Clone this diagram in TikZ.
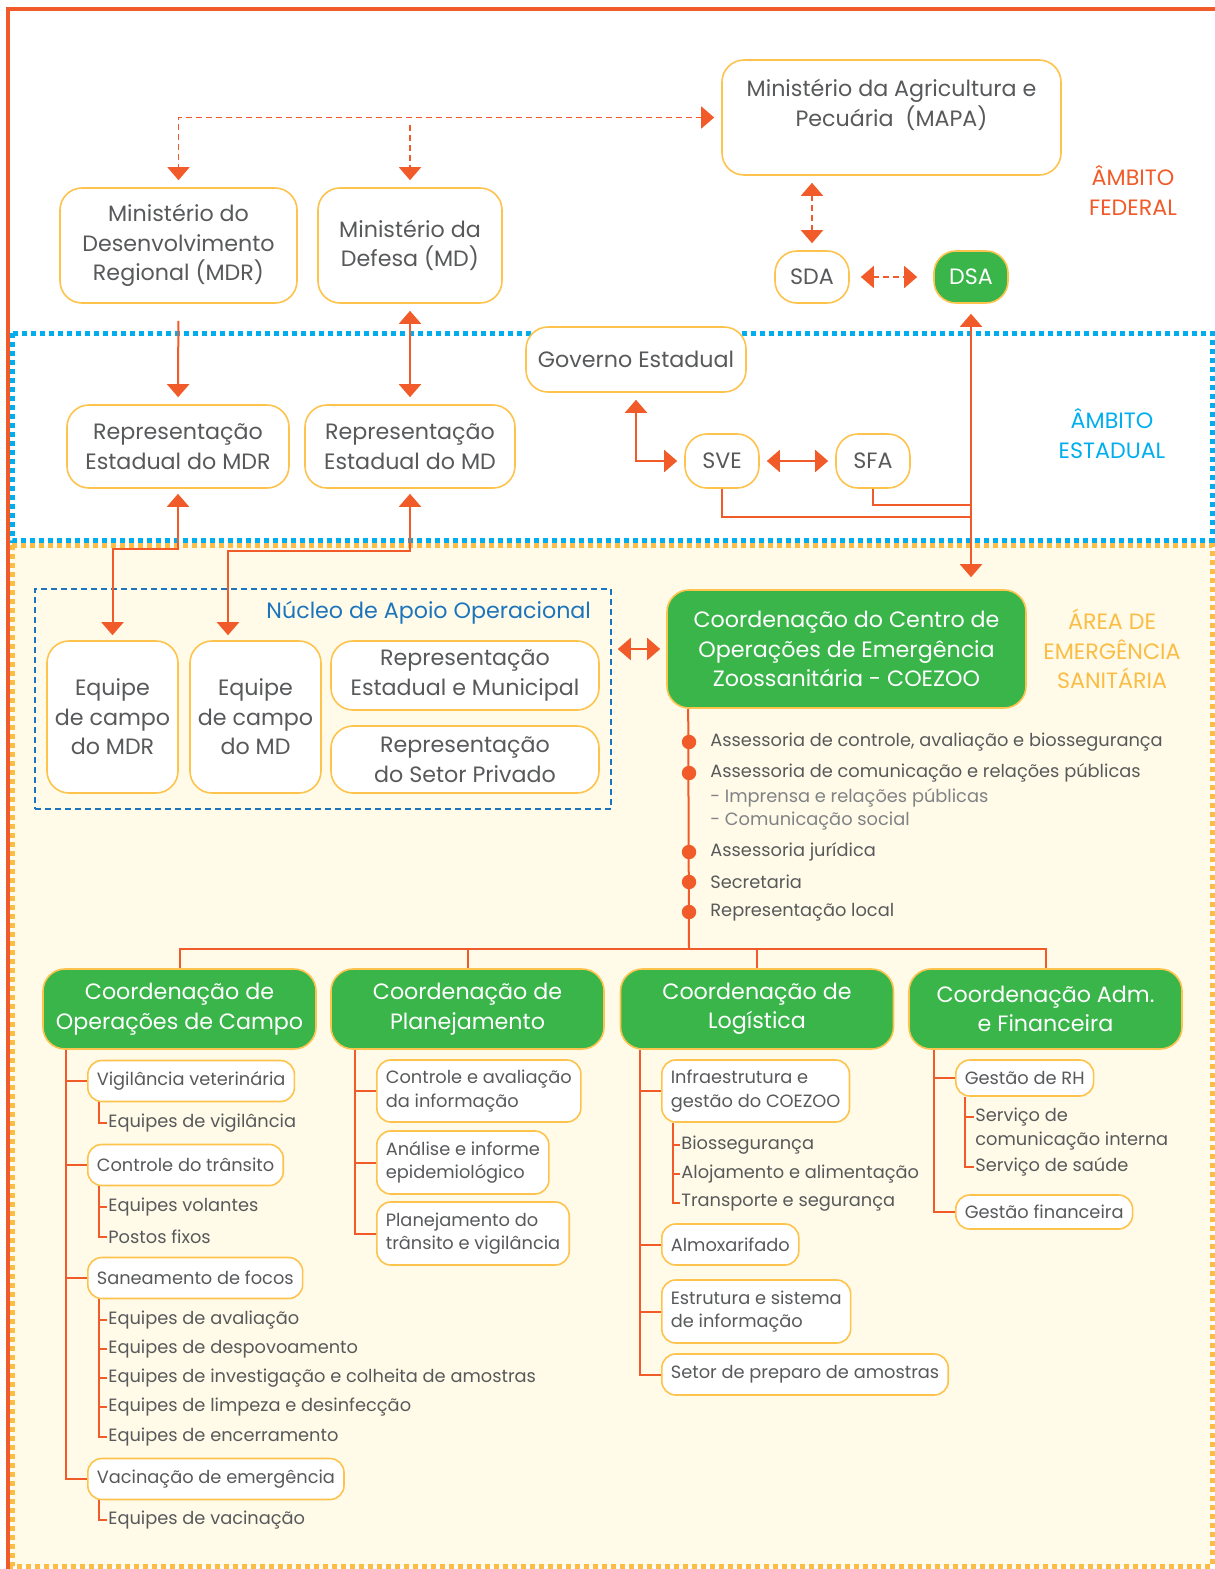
\documentclass[tikz,border=0pt]{standalone}
\usepackage{fontspec}
\setmainfont{Poppins}
\usetikzlibrary{arrows.meta, positioning, calc}

\definecolor{orng}{RGB}{241,90,41}
\definecolor{boxyel}{RGB}{253,195,77}
\definecolor{coegreen}{RGB}{57,181,74}
\definecolor{dotblue}{RGB}{0,174,239}
\definecolor{nucblue}{RGB}{28,117,188}
\definecolor{bgyel}{RGB}{255,251,232}
\definecolor{txtgray}{RGB}{88,89,91}
\definecolor{lightgray}{RGB}{128,130,133}
\definecolor{areayel}{RGB}{251,189,70}

\newcommand{\fbig}{\fontsize{11.1}{14.75}\selectfont}
\newcommand{\fsmall}{\fontsize{8.9}{11.6}\selectfont}

\begin{document}
\begin{tikzpicture}[x=0.5pt, y=-0.5pt,
  >={Triangle[width=11pt,length=6.5pt]},
  minbox/.style={draw=boxyel, line width=0.8pt, fill=white, rounded corners=11pt,
    align=center, text=txtgray, font=\fbig, inner sep=2pt},
  coebox/.style={minbox, fill=coegreen, text=white},
  subbox/.style={draw=boxyel, line width=0.8pt, fill=white, rounded corners=7pt,
    align=left, text=txtgray, font=\fsmall, anchor=west, inner xsep=4.5pt, inner ysep=2pt},
  leaftext/.style={text=txtgray, font=\fsmall, anchor=west, align=left, inner xsep=0.5pt, inner ysep=1pt},
  scopelabel/.style={font=\fbig, align=center},
  link/.style={draw=orng, line width=1pt, shorten >=3.5pt, shorten <=3.5pt},
  dlink/.style={link, line width=0.8pt, dash pattern=on 3pt off 2pt},
  branch/.style={draw=orng, line width=1pt},
  twig/.style={draw=orng, line width=0.7pt}
]
  \useasboundingbox (0,0) rectangle (1215,1569);

  % Regions
  \fill[bgyel] (12,545) rectangle (1212,1566);
  \draw[areayel, line width=2.5pt, dash pattern=on 2.5pt off 2pt] (12,545) rectangle (1212,1566);
  \draw[dotblue, line width=2.5pt, dash pattern=on 2.5pt off 2pt] (12,333) rectangle (1212,540);
  \draw[orng, line width=1.6pt] (8,1575) -- (8,9) -- (1222,9);

  % Federal level
  \node[minbox, minimum width=169.5pt, minimum height=57.5pt] (mapa) at (891.5,117.5)
    {Ministério da Agricultura e\\Pecuária\ \ (MAPA)\\\mbox{}};
  \node[minbox, minimum width=118.5pt, minimum height=57.5pt] (mdr) at (178.5,245.5)
    {Ministério do\\Desenvolvimento\\Regional (MDR)};
  \node[minbox, minimum width=92pt, minimum height=57.5pt] (md) at (410,245.5)
    {Ministério da\\Defesa (MD)};
  \node[minbox, minimum width=37pt, minimum height=26pt] (sda) at (812,277) {SDA};
  \node[coebox, minimum width=37pt, minimum height=26pt] (dsa) at (971,277) {DSA};
  \node[scopelabel, text=orng] (fed) at (1133,190.5) {ÂMBITO\\FEDERAL};

  % State level
  \node[minbox, minimum width=110pt, minimum height=32.5pt] (gov) at (636,359.5) {Governo Estadual};
  \node[minbox, minimum width=111pt, minimum height=41.5pt] (repmdr) at (178,446.5)
    {Representação\\Estadual do MDR};
  \node[minbox, minimum width=105pt, minimum height=41.5pt] (repmd) at (410,446.5)
    {Representação\\Estadual do MD};
  \node[minbox, minimum width=37pt, minimum height=27pt] (sve) at (722,461) {SVE};
  \node[minbox, minimum width=37pt, minimum height=27pt] (sfa) at (873,461) {SFA};
  \node[scopelabel, text=dotblue] (est) at (1112,433.5) {ÂMBITO\\ESTADUAL};

  % Emergency area
  \node[draw=nucblue, line width=0.75pt, dash pattern=on 3pt off 2pt,
    minimum width=288pt, minimum height=110pt] (nuc) at (323,699) {};
  \node[text=nucblue, font=\fbig, anchor=east] (nuclabel) at (598,613) {Núcleo de Apoio Operacional};
  \node[minbox, minimum width=65.5pt, minimum height=76pt] (eqmdr) at (112.5,717)
    {Equipe\\de campo\\do MDR};
  \node[minbox, minimum width=65.5pt, minimum height=76pt] (eqmd) at (255.5,717)
    {Equipe\\de campo\\do MD};
  \node[minbox, minimum width=134pt, minimum height=34.5pt] (repem) at (465,675.5)
    {Representação\\Estadual e Municipal};
  \node[minbox, minimum width=134pt, minimum height=33.5pt] (repsp) at (465,759.5)
    {Representação\\do Setor Privado};
  \node[coebox, minimum width=179.5pt, minimum height=59pt] (coe) at (846.5,649)
    {Coordenação do Centro de\\Operações de Emergência\\Zoossanitária - COEZOO};
  \node[scopelabel, text=areayel] (emg) at (1112,649) {ÁREA DE\\EMERGÊNCIA\\SANITÁRIA};

  % Connections between levels
  \draw[dlink, <->] (mapa.west) -| (mdr.north);
  \draw[dlink, ->] (md.north |- mapa.west) -- (md.north);
  \draw[dlink, <->] (sda.north |- mapa.south) -- (sda.north);
  \draw[dlink, <->, shorten <=5.5pt, shorten >=8pt] (sda) -- (dsa);
  \draw[link, ->, shorten <=8.5pt] (mdr) -- (repmdr);
  \draw[link, <->] (md) -- (repmd);
  \draw[link, <->] (gov.south) |- (sve.west);
  \draw[link, <->] (sve) -- (sfa);
  \draw[link, <->, shorten <=5pt, shorten >=6pt] (dsa.south) -- (dsa.south |- coe.north);
  \coordinate (jsfa) at (971,505);
  \coordinate (jsve) at (971,517);
  \draw[branch] (sfa.south) |- (jsfa);
  \draw[branch] (sve.south) |- (jsve);
  \draw[link, <->, shorten <=2.5pt, shorten >=2.5pt] (repmdr.south) -- ++(0,60) -| (eqmdr.north);
  \draw[link, <->, shorten <=2.5pt, shorten >=2.5pt] (repmd.south) -- ++(0,62) -| ([xshift=-13.75pt]eqmd.north);
  \draw[link, <->, shorten <=3pt, shorten >=3pt] (nuc.east |- coe.west) -- (coe.west);

  % COEZOO staff
  \coordinate (bus) at (689,949);
  \draw[branch] ([xshift=11pt]coe.south west) -- (bus);
  \foreach \y/\t [count=\i] in {742/{Assessoria de controle, avaliação e biossegurança},
      773/{Assessoria de comunicação e relações públicas}, 852/{Assessoria jurídica},
      882/{Secretaria}, 912/{Representação local}} {
    \fill[orng] (689,\y) circle (3.6pt);
    \node[leaftext] (ass\i) at (709,\y) {\t};
  }
  \node[leaftext, text=lightgray, anchor=north west] (imp) at (709,786)
    {- Imprensa e relações públicas\\- Comunicação social};

  % Coordinations
  \node[coebox, minimum width=136.5pt, minimum height=40pt] (campo) at (179.5,1009)
    {Coordenação de\\Operações de Campo};
  \node[coebox, minimum width=136.5pt, minimum height=40pt] (plan) at (467.5,1009)
    {Coordenação de\\Planejamento};
  \node[coebox, minimum width=136.5pt, minimum height=40pt] (logi) at (757,1009)
    {Coordenação de\\Logística};
  \node[coebox, minimum width=136.5pt, minimum height=40pt] (adm) at (1045.5,1009)
    {Coordenação Adm.\\e Financeira};
  \foreach \c in {campo, plan, logi, adm} {
    \draw[branch] (bus) -| (\c.north);
  }

  % Field operations
  \node[subbox, minimum height=20.5pt] (vig) at (87,1081) {Vigilância veterinária};
  \node[subbox, minimum height=20.5pt] (trans) at (87,1165) {Controle do trânsito};
  \node[subbox, minimum height=20.5pt] (san) at (87,1278) {Saneamento de focos};
  \node[subbox, minimum height=20.5pt] (vac) at (87,1479) {Vacinação de emergência};
  \foreach \n in {vig, trans, san, vac} {
    \draw[branch] ([xshift=12pt]campo.south west) |- (\n.west);
  }
  \node[leaftext] (ev) at (107,1123) {Equipes de vigilância};
  \draw[twig] ([xshift=6pt]vig.south west) |- (ev.west);
  \foreach \y/\t [count=\i] in {1207/{Equipes volantes}, 1237/{Postos fixos}} {
    \node[leaftext] (tr\i) at (107,\y) {\t};
    \draw[twig] ([xshift=6pt]trans.south west) |- (tr\i.west);
  }
  \foreach \y/\t [count=\i] in {1320/{Equipes de avaliação}, 1349/{Equipes de despovoamento},
      1378/{Equipes de investigação e colheita de amostras},
      1407/{Equipes de limpeza e desinfecção}, 1437/{Equipes de encerramento}} {
    \node[leaftext] (sa\i) at (107,\y) {\t};
    \draw[twig] ([xshift=6pt]san.south west) |- (sa\i.west);
  }
  \node[leaftext] (evac) at (107,1520) {Equipes de vacinação};
  \draw[twig] ([xshift=6pt]vac.south west) |- (evac.west);

  % Planning
  \node[subbox, minimum height=31pt] (cav) at (376,1091) {Controle e avaliação\\da informação};
  \node[subbox, minimum height=31.5pt] (ana) at (376,1162.5) {Análise e informe\\epidemiológico};
  \node[subbox, minimum height=31.5pt] (ptv) at (376,1233.5) {Planejamento do\\trânsito e vigilância};
  \foreach \n in {cav, ana, ptv} {
    \draw[branch] ([xshift=12.5pt]plan.south west) |- (\n.west);
  }

  % Logistics
  \node[subbox, minimum height=31pt] (infra) at (661,1091) {Infraestrutura e\\gestão do COEZOO};
  \node[subbox, minimum height=20.5pt] (almox) at (661,1244.5) {Almoxarifado};
  \node[subbox, minimum height=31.5pt] (estr) at (661,1311.5) {Estrutura e sistema\\de informação};
  \node[subbox, minimum height=20.5pt] (setor) at (661,1374.5) {Setor de preparo de amostras};
  \foreach \n in {infra, almox, estr, setor} {
    \draw[branch] ([xshift=10pt]logi.south west) |- (\n.west);
  }
  \foreach \y/\t [count=\i] in {1145/{Biossegurança}, 1174/{Alojamento e alimentação},
      1203/{Transporte e segurança}} {
    \node[leaftext] (in\i) at (680,\y) {\t};
    \draw[twig] ([xshift=6pt]infra.south west) |- (in\i.west);
  }

  % Administration and finance
  \node[subbox, minimum height=18pt] (rh) at (955,1078) {Gestão de RH};
  \node[subbox, minimum height=17pt] (fin) at (955,1212) {Gestão financeira};
  \foreach \n in {rh, fin} {
    \draw[branch] ([xshift=13pt]adm.south west) |- (\n.west);
  }
  \node[leaftext, anchor=north west] (srvc) at (974,1106) {Serviço de\\comunicação interna};
  \node[leaftext] (srvs) at (974,1167) {Serviço de saúde};
  \draw[twig] ([xshift=5pt]rh.south west) |- ([yshift=-5.5pt]srvc.north west);
  \draw[twig] ([xshift=5pt]rh.south west) |- (srvs.west);
\end{tikzpicture}
\end{document}
